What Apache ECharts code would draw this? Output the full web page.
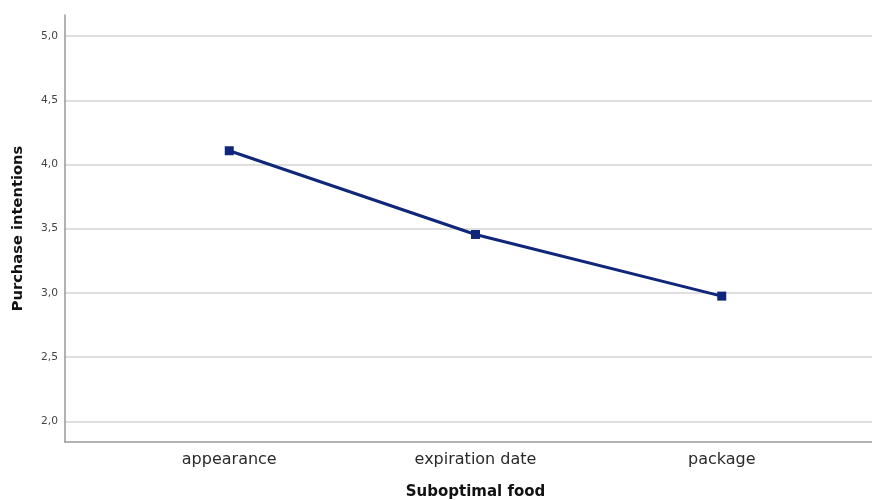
<!DOCTYPE html>
<html>
<head>
<meta charset="utf-8">
<script src="https://cdn.jsdelivr.net/npm/echarts@6/dist/echarts.min.js"></script>
<style>html,body{margin:0;padding:0;background:#fff}#c{width:872px;height:500px}</style>
</head>
<body>
<div id="c"></div>
<script>
const categories = ['appearance', 'expiration date', 'package'];
const values = [4.107, 3.455, 2.975];
const yTicks = [2.0, 2.5, 3.0, 3.5, 4.0, 4.5, 5.0];
const xTitle = 'Suboptimal food';
const yTitle = 'Purchase intentions';

const chart = echarts.init(document.getElementById('c'), null, {renderer: 'canvas'});
const font = '"DejaVu Sans", "Noto Sans", sans-serif';
chart.setOption({
  animation: false,
  backgroundColor: '#fff',
  grid: {left: 65, width: 821, top: 15, height: 427, containLabel: false, outerBoundsMode: 'none'},
  xAxis: {
    type: 'value',
    min: -0.667, max: 2.667,
    name: xTitle,
    nameLocation: 'middle',
    nameGap: 43,
    nameTextStyle: {fontFamily: font, fontWeight: 'bold', fontSize: 15, color: '#111'},
    axisLine: {show: true, onZero: false, lineStyle: {color: '#999', width: 1.5}},
    axisTick: {show: false, customValues: [0, 1, 2]},
    splitLine: {show: false},
    axisLabel: {
      customValues: [0, 1, 2],
      margin: 10,
      fontFamily: font, fontSize: 16, color: '#2a2a2a',
      formatter: v => categories[Math.round(v)] || ''
    }
  },
  yAxis: {
    type: 'value',
    min: 1.839, max: 5.164,
    name: yTitle,
    nameLocation: 'middle',
    nameGap: 39,
    nameTextStyle: {fontFamily: font, fontWeight: 'bold', fontSize: 14.7, color: '#111'},
    axisLine: {show: true, onZero: false, lineStyle: {color: '#999', width: 1.5}},
    axisTick: {show: false, customValues: yTicks},
    axisLabel: {
      customValues: yTicks,
      margin: 7,
      fontFamily: font, fontSize: 10.7, color: '#444',
      formatter: v => v.toFixed(1).replace('.', ',')
    },
    splitLine: {show: true, lineStyle: {color: '#d4d4d4', width: 1.5}}
  },
  series: [{
    type: 'line',
    data: values.map((v, i) => [i, v]),
    symbol: 'rect',
    symbolSize: 9,
    lineStyle: {color: '#10267a', width: 3},
    itemStyle: {color: '#10267a'},
    z: 5
  }]
});
</script>
</body>
</html>
